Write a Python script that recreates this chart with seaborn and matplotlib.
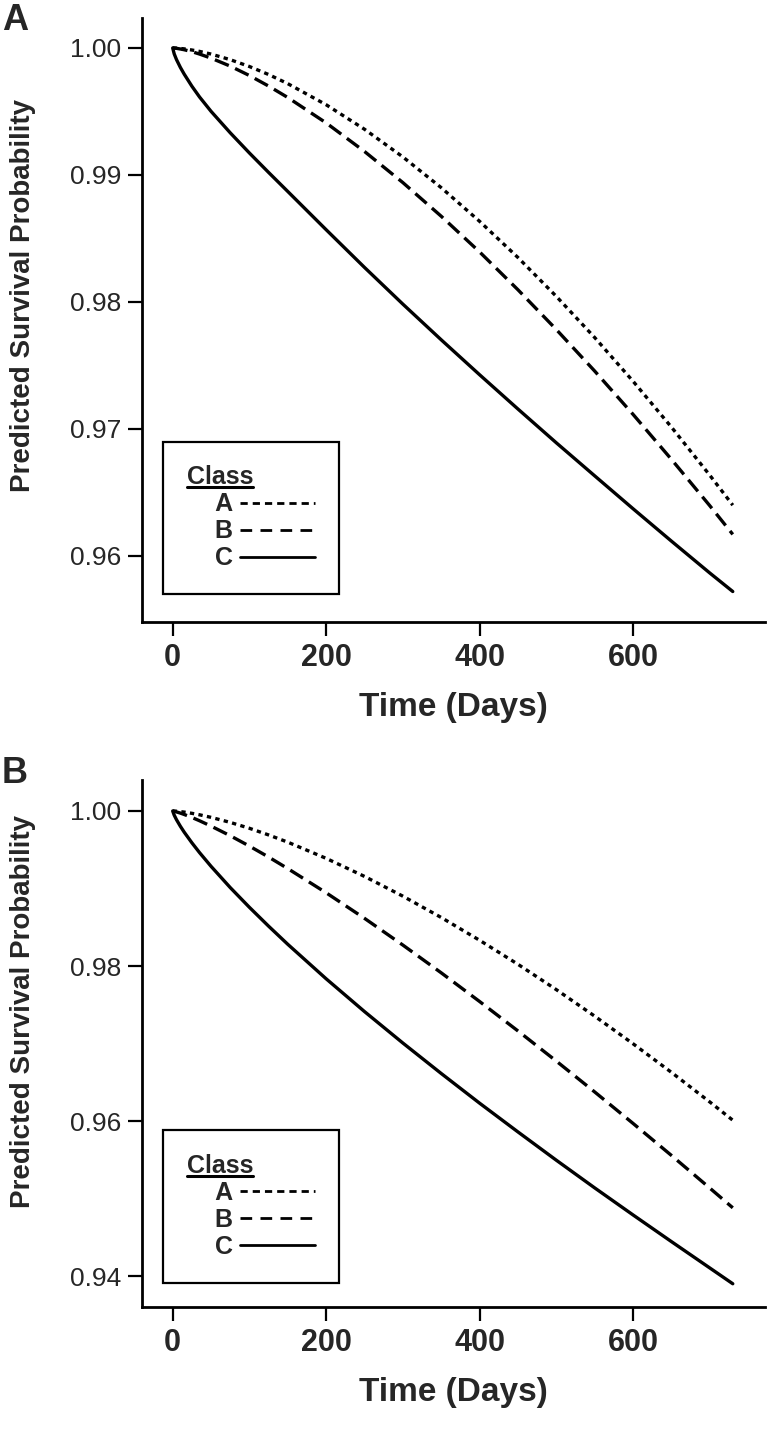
import matplotlib
matplotlib.use('Agg')
import matplotlib.pyplot as plt
from matplotlib.lines import Line2D
from matplotlib import ticker
import seaborn as sns
import pandas as pd

# time grid (days)
days = [0, 2, 5, 10, 15, 25, 35, 50, 75, 100, 125, 150, 200, 250, 300, 350,
        400, 450, 500, 550, 600, 650, 700, 730]

# panel A
a_A = [1.0, 1.0, 0.99999, 0.99996, 0.99993, 0.99984, 0.99973, 0.99952, 0.99908, 0.99854,
       0.99791, 0.99719, 0.99553, 0.9936, 0.99142, 0.9890, 0.98635, 0.9835, 0.98044, 0.9772,
       0.97376, 0.97015, 0.96636, 0.9640]
a_B = [1.0, 0.99999, 0.99997, 0.99992, 0.99986, 0.99971, 0.99952, 0.99920, 0.99857, 0.99783,
       0.9970, 0.9961, 0.9941, 0.99185, 0.9894, 0.98675, 0.98394, 0.98096, 0.97783, 0.97456,
       0.97115, 0.96761, 0.96396, 0.9617]
a_C = [1.0, 0.99953, 0.99908, 0.99847, 0.99794, 0.99699, 0.99614, 0.99501, 0.99332, 0.99173,
       0.9902, 0.9887, 0.98569, 0.98272, 0.97983, 0.97702, 0.97427, 0.97157, 0.96891, 0.96631,
       0.96372, 0.96117, 0.95866, 0.9572]

# panel B
b_A = [1.0, 0.99999, 0.99997, 0.99992, 0.99986, 0.9997, 0.99951, 0.99918, 0.99853, 0.99777,
       0.99691, 0.99598, 0.99389, 0.99156, 0.98901, 0.98626, 0.98332, 0.98022, 0.97695, 0.97353,
       0.96997, 0.96628, 0.96246, 0.9601]
b_B = [1.0, 0.99996, 0.99988, 0.99973, 0.99955, 0.99917, 0.99874, 0.99805, 0.99681, 0.99547,
       0.99406, 0.99257, 0.98945, 0.98615, 0.9827, 0.97912, 0.97542, 0.97162, 0.96773, 0.96375,
       0.95969, 0.95556, 0.95135, 0.9488]
b_C = [1.0, 0.99946, 0.99887, 0.99803, 0.99727, 0.9959, 0.99463, 0.99286, 0.99012, 0.98757,
       0.98514, 0.9828, 0.97835, 0.97412, 0.97006, 0.96613, 0.9623, 0.95859, 0.95494, 0.95137,
       0.94788, 0.94444, 0.94104, 0.9390]

classes = ['A', 'B', 'C']
yticks_a = [0.96, 0.97, 0.98, 0.99, 1.00]
yticks_b = [0.94, 0.96, 0.98, 1.00]
xticks = [0, 200, 400, 600]

sns.set_style('ticks')
plt.rcParams['font.family'] = ['Liberation Sans', 'DejaVu Sans']

dash_map = {'A': (1.3, 1.3), 'B': (4.5, 2.1), 'C': ''}
leg_dash = {'A': (2.6, 1.8), 'B': (4.2, 3.0), 'C': ''}
lw = 2.4


def make_df(series):
    rows = []
    for cls, vals in zip(classes, series):
        for t, v in zip(days, vals):
            rows.append({'time': t, 'surv': v, 'Class': cls})
    return pd.DataFrame(rows)


fig = plt.figure(figsize=(7.68, 14.39), dpi=100)
W, H = 768, 1439


def px_axes(left, top, right, bottom):
    return fig.add_axes([left / W, 1 - bottom / H, (right - left) / W, (bottom - top) / H])


panels = [
    (px_axes(142, 18, 765, 622), make_df([a_A, a_B, a_C]), yticks_a, (0.9548, 1.00236), 'A', 3, 0.54),
    (px_axes(142, 780, 765, 1307), make_df([b_A, b_B, b_C]), yticks_b, (0.9360, 1.0040), 'B', 756, 0.56),
]

legends = []
for ax, df, yt, ylim, letter, ltop, ylab_y in panels:
    sns.lineplot(data=df, x='time', y='surv', style='Class', dashes=dash_map,
                 color='black', linewidth=lw, legend=False, ax=ax, sort=False)
    ax.set_xlim(-40, 772)
    ax.set_ylim(*ylim)
    ax.set_xticks(xticks)
    ax.set_yticks(yt)
    ax.yaxis.set_major_formatter(ticker.FormatStrFormatter('%.2f'))
    sns.despine(ax=ax)
    for s in ['left', 'bottom']:
        ax.spines[s].set_linewidth(2)
        ax.spines[s].set_color('black')
    ax.tick_params(axis='both', width=1.6, length=10, color='black')
    ax.tick_params(axis='y', labelsize=19, pad=5)
    ax.tick_params(axis='x', labelsize=22, pad=5)
    for lab in ax.get_xticklabels():
        lab.set_fontweight('bold')
    ax.set_xlabel('Time (Days)', fontsize=24, fontweight='bold', labelpad=14)
    ax.set_ylabel('Predicted Survival Probability', fontsize=20, fontweight='bold')
    ax.yaxis.set_label_coords(-0.17, ylab_y)

    handles = [Line2D([], [], color='black', linewidth=2.0, dashes=leg_dash[c]) for c in classes]
    leg = ax.legend(handles, ['    ' + c for c in classes],
                    title='Class', title_fontproperties={'weight': 'bold', 'size': 18},
                    prop={'weight': 'bold', 'size': 18},
                    loc='lower left', bbox_to_anchor=(0.034, 0.046), borderaxespad=0,
                    markerfirst=False, frameon=True, fancybox=False, edgecolor='black',
                    handlelength=3.0, handletextpad=0.3, labelspacing=0.12,
                    borderpad=0.95, alignment='left')
    leg.get_frame().set_linewidth(1.6)
    leg.get_frame().set_alpha(1)
    legends.append(leg)

    fig.text(2 / W, 1 - ltop / H, letter, fontsize=26, fontweight='bold',
             ha='left', va='top')

# underline the legend titles
fig.canvas.draw()
renderer = fig.canvas.get_renderer()
for leg in legends:
    bb = leg.get_title().get_window_extent(renderer)
    y = (bb.y0 + 2) / H
    fig.add_artist(Line2D([bb.x0 / W, bb.x1 / W], [y, y],
                          transform=fig.transFigure, color='black', linewidth=2.2))

fig.savefig('out.png', dpi=100)
